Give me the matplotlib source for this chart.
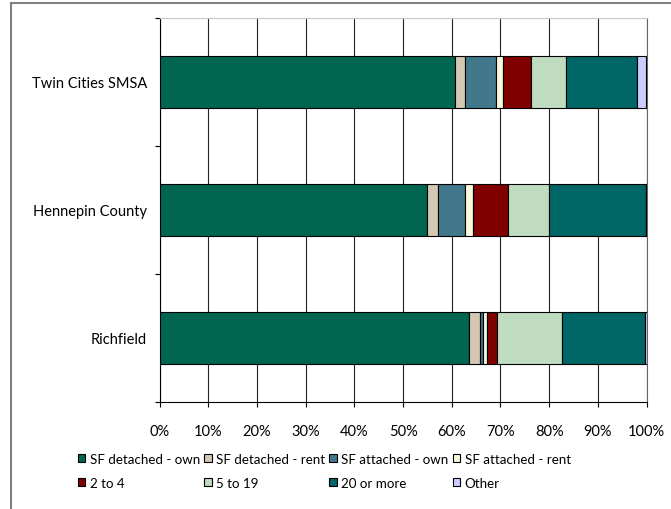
import matplotlib
matplotlib.use('Agg')
import matplotlib.pyplot as plt
from matplotlib.patches import Patch
from matplotlib.lines import Line2D
import matplotlib.ticker as ticker
import numpy as np

plt.rcParams['font.family'] = ['Lato', 'DejaVu Sans']

# Share of housing units by structure type / tenure (percent)
places = ['Richfield', 'Hennepin County', 'Twin Cities SMSA']
types = ['SF detached - own', 'SF detached - rent', 'SF attached - own',
         'SF attached - rent', '2 to 4', '5 to 19', '20 or more', 'Other']
sf_det_own = [63.6, 54.9, 60.7]
sf_det_rent = [2.3, 2.3, 2.1]
sf_att_own = [0.6, 5.5, 6.2]
sf_att_rent = [0.8, 1.6, 1.6]
two_to_four = [2.1, 7.2, 5.7]
five_to_19 = [13.3, 8.5, 7.1]
twenty_plus = [17.0, 19.8, 14.6]
other = [0.3, 0.3, 1.9]
series = [sf_det_own, sf_det_rent, sf_att_own, sf_att_rent,
          two_to_four, five_to_19, twenty_plus, other]
colors = ['#006650', '#d4c8b4', '#42788c', '#f8f8dc',
          '#800000', '#c0dcc0', '#006666', '#ccccff']

W, H = 671, 510
fig = plt.figure(figsize=(W / 100, H / 100), dpi=100)
ax = fig.add_axes([159.5 / W, 1 - 403 / H, 487 / W, 384 / H])

y = np.arange(len(places))
left = np.zeros(len(places))
for vals, c, name in zip(series, colors, types):
    ax.barh(y, vals, left=left, height=0.4, color=c, edgecolor='black',
            linewidth=0.8, label=name, zorder=3)
    left += np.array(vals)

ax.set_xlim(0, 100)
ax.set_ylim(-0.5, len(places) - 0.5)
ax.xaxis.set_major_locator(ticker.MultipleLocator(10))
ax.xaxis.set_major_formatter(ticker.FuncFormatter(lambda v, p: f'{v:.0f}%'))
ax.grid(axis='x', color='#222222', lw=0.8, zorder=0)

ax.set_yticks(y)
ax.set_yticklabels(places)
ax.set_yticks(np.arange(-0.5, len(places)), minor=True)
ax.tick_params(axis='y', which='major', length=0, pad=9)
ax.tick_params(axis='y', which='minor', length=3.6, width=0.8)
ax.tick_params(axis='x', length=3.6, width=0.8, pad=12)
ax.tick_params(labelsize=10.5, colors='black')

ax.spines['top'].set_color('#c8c8c8')
ax.spines['right'].set_color('#666666')
for s in ax.spines.values():
    s.set_linewidth(0.8)

# legend, filled row by row
h = [Patch(facecolor=c, edgecolor='black', linewidth=0.8) for c in colors]
order = [0, 4, 1, 5, 2, 6, 3, 7]
fig.legend([h[i] for i in order], [types[i] for i in order], ncol=4,
           frameon=False, loc='upper left',
           bbox_to_anchor=(78 / W, 1 - 454 / H), fontsize=9.6,
           handlelength=0.55, handleheight=0.55, handletextpad=0.35,
           columnspacing=0.3, labelspacing=0.9, borderaxespad=0,
           borderpad=0)

# chart border (left and top edges)
border = dict(color='#808080', lw=1.5, transform=fig.transFigure)
fig.add_artist(Line2D([11 / W, 11 / W], [0, 1 - 4 / H], **border))
fig.add_artist(Line2D([11 / W, 1], [1 - 4 / H, 1 - 4 / H], **border))

fig.savefig('out.png', dpi=100)
